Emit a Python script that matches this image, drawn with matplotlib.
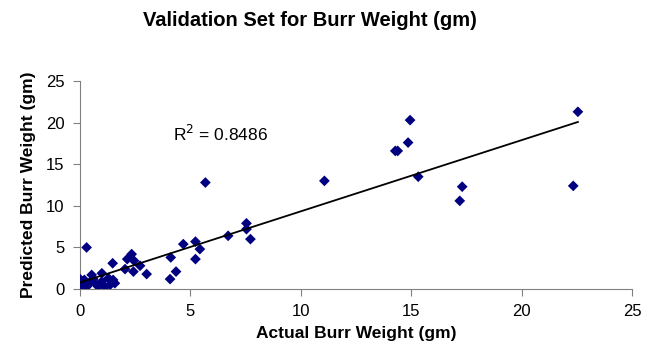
import numpy as np
import matplotlib
matplotlib.use("Agg")
import matplotlib.pyplot as plt

plt.rcParams['font.family'] = ['Liberation Sans', 'DejaVu Sans']

# Actual vs predicted burr weight (gm)
actual = [
    0.0, 0.15, 0.53, 0.99, 0.99, 1.29, 0.68, 1.58, 0.38, 0.0,
    1.13, 0.83, 1.50, 1.36, 0.20, 0.45, 0.05, 0.10, 0.30, 0.60,
    0.30, 1.48, 2.34, 2.14, 2.45, 2.04, 2.42, 2.72, 3.02,
    4.11, 4.35, 4.08, 4.68, 5.23, 5.43, 5.23, 6.71,
    7.54, 7.54, 7.72, 5.68, 11.07, 14.28, 14.39, 14.86,
    14.95, 15.32, 17.31, 17.20, 22.34, 22.55,
]
predicted = [
    1.2, 0.7, 1.7, 1.9, 0.9, 1.3, 0.7, 0.7, 0.5, 0.5,
    0.3, 0.3, 1.1, 0.5, 1.1, 0.8, 0.2, 0.9, 0.3, 1.2,
    5.0, 3.1, 4.2, 3.6, 3.4, 2.4, 2.1, 2.8, 1.8,
    3.8, 2.1, 1.2, 5.4, 5.7, 4.8, 3.6, 6.4,
    7.9, 7.2, 6.0, 12.8, 13.0, 16.6, 16.6, 17.6,
    20.3, 13.5, 12.3, 10.6, 12.4, 21.3,
]
r2_label = "R$^2$ = 0.8486"

x = np.array(actual)
y = np.array(predicted)

fig = plt.figure(figsize=(6.46, 3.56), dpi=100)
ax = fig.add_axes([0.1238, 0.188, 0.8545, 0.5845])

ax.scatter(x, y, marker='D', s=30, color='#000080', edgecolors='none', zorder=3)

# linear trend line
slope, intercept = np.polyfit(x, y, 1)
xl = np.array([x.min(), x.max()])
ax.plot(xl, slope * xl + intercept, color='black', linewidth=1.3, zorder=4)

ax.text(4.2, 18.6, r2_label, fontsize=12.5, va='center', ha='left')

ax.set_xlim(0, 25)
ax.set_ylim(0, 25)
ax.set_xticks(range(0, 26, 5))
ax.set_yticks(range(0, 26, 5))
ax.tick_params(labelsize=12, length=5, color='#808080', direction='out', pad=6)

for side in ['top', 'right']:
    ax.spines[side].set_visible(False)
for side in ['left', 'bottom']:
    ax.spines[side].set_color('#808080')

ax.set_xlabel('Actual Burr Weight (gm)', fontsize=12.5, fontweight='bold', labelpad=5)
ax.set_ylabel('Predicted Burr Weight (gm)', fontsize=12.5, fontweight='bold', labelpad=7)
fig.suptitle('Validation Set for Burr Weight (gm)', fontsize=14.5, fontweight='bold',
             x=0.48, y=0.97)

fig.savefig('out.png', dpi=100)
